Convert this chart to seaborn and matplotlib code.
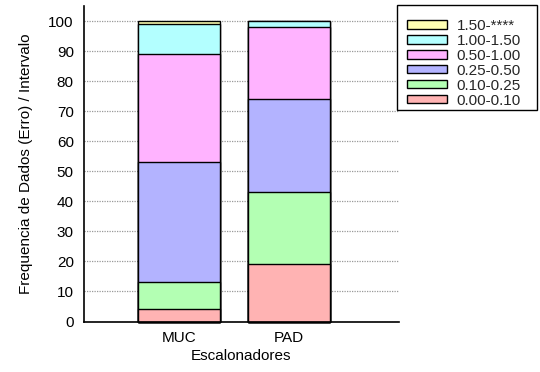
import matplotlib
matplotlib.use("Agg")
import matplotlib.pyplot as plt
import seaborn as sns
import pandas as pd
import numpy as np
from matplotlib.patches import Patch, Rectangle

# Scheduler categories and error-interval stacks (percent of samples)
schedulers = ["MUC", "PAD"]
intervals = ["0.00-0.10", "0.10-0.25", "0.25-0.50", "0.50-1.00", "1.00-1.50", "1.50-****"]
muc_values = [4, 9, 40, 36, 10, 1]
pad_values = [19, 24, 31, 24, 2, 0]
y_ticks = [0, 10, 20, 30, 40, 50, 60, 70, 80, 90, 100]

colors = ["#ffb3b3", "#b3ffb3", "#b3b3ff", "#ffb3ff", "#b3ffff", "#ffffb3"]

sns.set_theme(style="white")
plt.rcParams["font.family"] = ["Liberation Sans", "DejaVu Sans"]

FS = 11
W, H = 540, 372

fig = plt.figure(figsize=(5.4, 3.72), dpi=100)
ax = fig.add_axes([83.5 / W, 1 - 321.5 / H, 315.5 / W, 315.5 / H])

# cumulative tops per layer; draw the tallest layer first so lower layers sit on top
cum = np.cumsum(np.array([muc_values, pad_values]), axis=1)
for i in range(len(intervals) - 1, -1, -1):
    df = pd.DataFrame({"sched": schedulers, "top": cum[:, i]})
    sns.barplot(data=df, x="sched", y="top", color=colors[i], saturation=1,
                edgecolor="black", linewidth=1.0, width=0.745, ax=ax,
                zorder=3, clip_on=False)

ax.set_xlim(-0.8636, 2.0)
ax.set_ylim(0, 105)
ax.set_yticks(y_ticks)
ax.yaxis.grid(True, linestyle=(0, (1, 1)), color="#999999", linewidth=0.9, zorder=0)
ax.set_axisbelow(True)
ax.tick_params(axis="both", labelsize=FS, length=0, colors="black")
ax.tick_params(axis="y", pad=7)
ax.tick_params(axis="x", pad=7)
for s in ["top", "right"]:
    ax.spines[s].set_visible(False)
for s in ["left", "bottom"]:
    ax.spines[s].set_color("black")
    ax.spines[s].set_linewidth(1.2)
    ax.spines[s].set_zorder(4)

ax.set_xlabel("Escalonadores", fontsize=FS, labelpad=3, color="black")
ax.set_ylabel("Frequencia de Dados (Erro) / Intervalo", fontsize=FS, labelpad=11, color="black")

# key box, drawn separately from the entries
fig.patches.append(Rectangle((397 / W, 1 - 110 / H), 140 / W, 105 / H,
                             transform=fig.transFigure, facecolor="white",
                             edgecolor="black", linewidth=1.0, zorder=5))

handles = [Patch(facecolor=colors[i], edgecolor="black", linewidth=1.0, label=intervals[i])
           for i in range(len(intervals) - 1, -1, -1)]
leg = fig.legend(handles=handles, loc="upper left", bbox_to_anchor=(407 / W, 1 - 19 / H),
                 fontsize=FS, frameon=False, handlelength=2.6, handleheight=0.46,
                 labelspacing=0.06, handletextpad=0.65, borderpad=0, borderaxespad=0)
leg.set_zorder(6)

fig.savefig("out.png", dpi=100)
